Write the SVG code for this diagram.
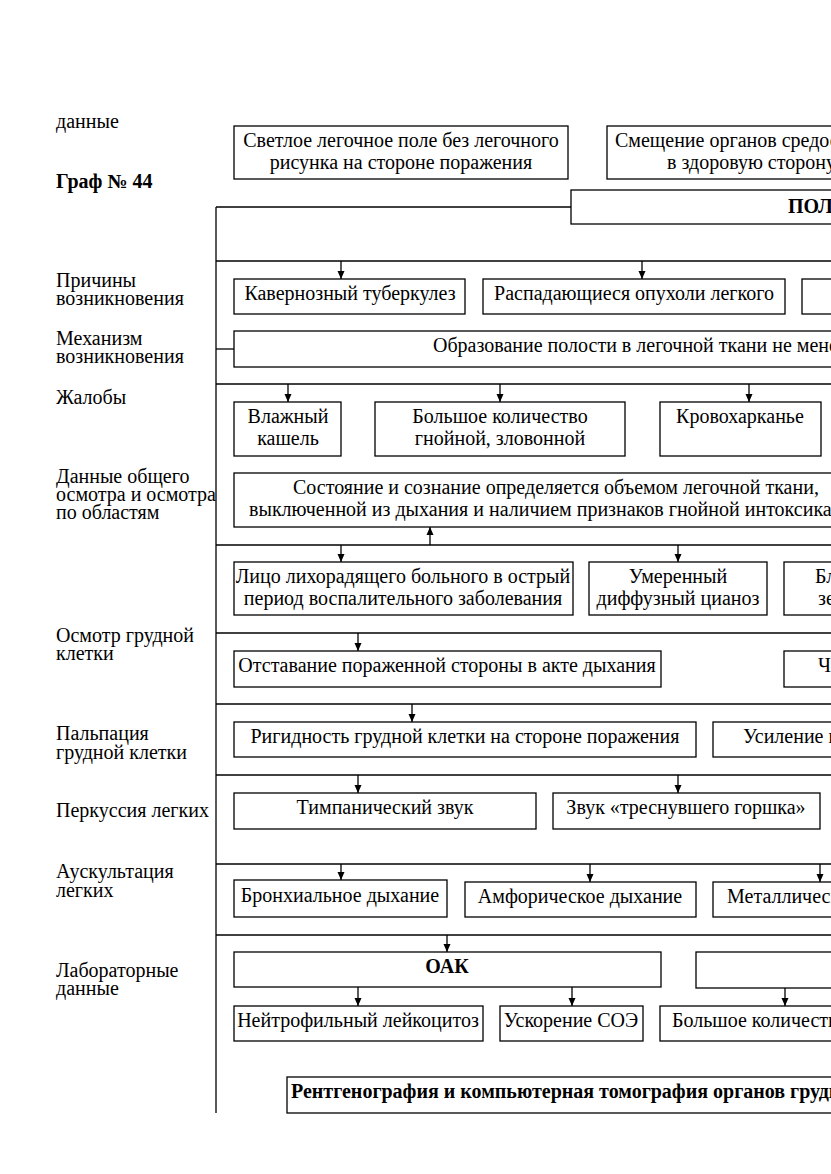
<svg xmlns="http://www.w3.org/2000/svg" width="831" height="1174" viewBox="0 0 831 1174">
<style>
.b{fill:#fff;stroke:#000;stroke-width:1.3}
.l{stroke:#000;stroke-width:1.3;fill:none}
.a{stroke:#000;stroke-width:1.3;fill:none;marker-end:url(#ah)}
text{font-family:"Liberation Serif","Times New Roman",serif;font-size:20px;fill:#000}
.c{text-anchor:middle}
.bd{font-weight:bold}
</style>
<defs>
<marker id="ah" markerUnits="userSpaceOnUse" markerWidth="8" markerHeight="8" refX="8" refY="4" orient="auto"><path d="M0,0.5 L8,4 L0,7.5 z" fill="#000"/></marker>
</defs>
<rect width="831" height="1174" fill="#fff"/>
<g id="labels">
<text x="56" y="128">данные</text>
<text x="56" y="188" class="bd">Граф № 44</text>
<text x="56" y="287">Причины</text>
<text x="56" y="305">возникновения</text>
<text x="56" y="345">Механизм</text>
<text x="56" y="363">возникновения</text>
<text x="56" y="404">Жалобы</text>
<text x="56" y="483">Данные общего</text>
<text x="56" y="501">осмотра и осмотра</text>
<text x="56" y="519">по областям</text>
<text x="56" y="642">Осмотр грудной</text>
<text x="56" y="660">клетки</text>
<text x="56" y="740">Пальпация</text>
<text x="56" y="759">грудной клетки</text>
<text x="56" y="817">Перкуссия легких</text>
<text x="56" y="878">Аускультация</text>
<text x="56" y="897">легких</text>
<text x="56" y="977">Лабораторные</text>
<text x="56" y="995">данные</text>
</g>
<g id="connectors">
<line class="l" x1="216" y1="207" x2="216" y2="1113"/>
<line class="l" x1="216" y1="207" x2="571" y2="207"/>
<line class="l" x1="216" y1="261" x2="831" y2="261"/>
<line class="l" x1="216" y1="349" x2="234" y2="349"/>
<line class="l" x1="216" y1="384" x2="831" y2="384"/>
<line class="l" x1="216" y1="545" x2="831" y2="545"/>
<line class="l" x1="216" y1="633" x2="831" y2="633"/>
<line class="l" x1="216" y1="704" x2="831" y2="704"/>
<line class="l" x1="216" y1="775" x2="831" y2="775"/>
<line class="l" x1="216" y1="864" x2="831" y2="864"/>
<line class="l" x1="216" y1="935" x2="831" y2="935"/>
<line class="a" x1="341" y1="261" x2="341" y2="279"/>
<line class="a" x1="642" y1="261" x2="642" y2="279"/>
<line class="a" x1="288" y1="384" x2="288" y2="402"/>
<line class="a" x1="500" y1="384" x2="500" y2="402"/>
<line class="a" x1="749" y1="384" x2="749" y2="402"/>
<line class="a" x1="430" y1="545" x2="430" y2="527"/>
<line class="a" x1="341" y1="545" x2="341" y2="562"/>
<line class="a" x1="678" y1="545" x2="678" y2="562"/>
<line class="a" x1="358" y1="633" x2="358" y2="651"/>
<line class="a" x1="412" y1="704" x2="412" y2="722"/>
<line class="a" x1="358" y1="775" x2="358" y2="793"/>
<line class="a" x1="678" y1="775" x2="678" y2="793"/>
<line class="a" x1="341" y1="864" x2="341" y2="880"/>
<line class="a" x1="590" y1="864" x2="590" y2="882"/>
<line class="a" x1="820" y1="864" x2="820" y2="882"/>
<line class="a" x1="447" y1="935" x2="447" y2="952"/>
<line class="a" x1="358" y1="987" x2="358" y2="1006"/>
<line class="a" x1="572" y1="987" x2="572" y2="1006"/>
<line class="a" x1="785" y1="988" x2="785" y2="1006"/>
</g>
<g id="n1"><rect class="b" x="234" y="126" width="334" height="53"/><text class="c" x="401" y="147">Светлое легочное поле без легочного</text><text class="c" x="401" y="169">рисунка на стороне поражения</text></g>
<g id="n2"><rect class="b" x="607" y="126" width="240" height="53"/><text x="615" y="147">Смещение органов средостения</text><text x="667" y="169">в здоровую сторону</text></g>
<g id="n3"><rect class="b" x="571" y="190" width="280" height="34"/><text x="788" y="213" class="bd">ПОЛОСТЬ</text></g>
<g id="n4"><rect class="b" x="234" y="279" width="231" height="35"/><text class="c" x="350" y="300">Кавернозный туберкулез</text></g>
<g id="n5"><rect class="b" x="483" y="279" width="302" height="35"/><text class="c" x="634" y="300">Распадающиеся опухоли легкого</text></g>
<g id="n6"><rect class="b" x="802" y="279" width="60" height="35"/></g>
<g id="n7"><rect class="b" x="234" y="331" width="620" height="36"/><text x="433" y="352">Образование полости в легочной ткани не менее</text></g>
<g id="n8"><rect class="b" x="234" y="402" width="107" height="54"/><text class="c" x="288" y="423">Влажный</text><text class="c" x="288" y="445">кашель</text></g>
<g id="n9"><rect class="b" x="375" y="402" width="250" height="54"/><text class="c" x="500" y="423">Большое количество</text><text class="c" x="500" y="445">гнойной, зловонной</text></g>
<g id="n10"><rect class="b" x="660" y="402" width="161" height="54"/><text class="c" x="740" y="423">Кровохарканье</text></g>
<g id="n11"><rect class="b" x="234" y="473" width="620" height="54"/><text x="293" y="494">Состояние и сознание определяется объемом легочной ткани,</text><text x="249" y="516">выключенной из дыхания и наличием признаков гнойной интоксикации</text></g>
<g id="n12"><rect class="b" x="234" y="562" width="339" height="53"/><text class="c" x="403" y="583">Лицо лихорадящего больного в острый</text><text class="c" x="403" y="605">период воспалительного заболевания</text></g>
<g id="n13"><rect class="b" x="589" y="562" width="178" height="53"/><text class="c" x="678" y="583">Умеренный</text><text class="c" x="678" y="605">диффузный цианоз</text></g>
<g id="n14"><rect class="b" x="784" y="562" width="80" height="53"/><text x="815" y="583">Бл</text><text x="818" y="605">зе</text></g>
<g id="n15"><rect class="b" x="234" y="651" width="427" height="36"/><text class="c" x="447" y="672">Отставание пораженной стороны в акте дыхания</text></g>
<g id="n16"><rect class="b" x="784" y="651" width="80" height="36"/><text x="818" y="672">Ч</text></g>
<g id="n17"><rect class="b" x="234" y="722" width="462" height="35"/><text class="c" x="465" y="743">Ригидность грудной клетки на стороне поражения</text></g>
<g id="n18"><rect class="b" x="713" y="722" width="140" height="35"/><text x="743" y="743">Усиление голосового</text></g>
<g id="n19"><rect class="b" x="234" y="793" width="302" height="36"/><text class="c" x="385" y="814">Тимпанический звук</text></g>
<g id="n20"><rect class="b" x="553" y="793" width="267" height="36"/><text class="c" x="686" y="814">Звук «треснувшего горшка»</text></g>
<g id="n21"><rect class="b" x="234" y="880" width="213" height="37"/><text class="c" x="340" y="902">Бронхиальное дыхание</text></g>
<g id="n22"><rect class="b" x="465" y="882" width="231" height="35"/><text class="c" x="580" y="903">Амфорическое дыхание</text></g>
<g id="n23"><rect class="b" x="713" y="882" width="140" height="35"/><text x="727" y="903">Металлический</text></g>
<g id="n24"><rect class="b" x="234" y="952" width="427" height="35"/><text class="c bd" x="447" y="973">ОАК</text></g>
<g id="n25"><rect class="b" x="696" y="952" width="160" height="36"/></g>
<g id="n26"><rect class="b" x="234" y="1006" width="249" height="35"/><text class="c" x="358" y="1027">Нейтрофильный лейкоцитоз</text></g>
<g id="n27"><rect class="b" x="500" y="1006" width="143" height="35"/><text class="c" x="571" y="1027">Ускорение СОЭ</text></g>
<g id="n28"><rect class="b" x="660" y="1006" width="190" height="35"/><text x="672" y="1027">Большое количество</text></g>
<g id="n29"><rect class="b" x="287" y="1077" width="570" height="36"/><text x="291" y="1098" class="bd">Рентгенография и компьютерная томография органов грудной</text></g>
</svg>
